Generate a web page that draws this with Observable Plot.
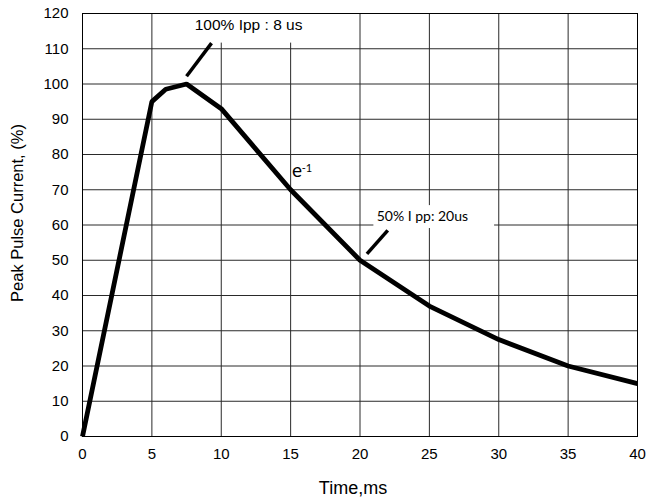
<!DOCTYPE html>
<html>
<head>
<meta charset="utf-8">
<script src="https://cdn.jsdelivr.net/npm/d3@7"></script>
<script src="https://cdn.jsdelivr.net/npm/@observablehq/plot@0.6"></script>
<style>
  html, body { margin: 0; padding: 0; background: #fff; }
  #chart svg { display: block; }
</style>
</head>
<body>
<div id="chart"></div>
<script>
// Data
const timeMs = [0, 5, 6, 7.5, 10, 15, 20, 25, 30, 35, 40];
const currentPct = [0, 95, 98.5, 100, 93, 70, 50, 37, 27.5, 20, 15];
const xTicks = [0, 5, 10, 15, 20, 25, 30, 35, 40];
const yTicks = [0, 10, 20, 30, 40, 50, 60, 70, 80, 90, 100, 110, 120];

// Annotations
const noteLabels = ["100% Ipp : 8 us", "50% I pp: 20us"];
const noteX = [11.97, 21.2];
const noteY = [116.6, 62.3];
const noteBoxX1 = [7.6, 21.0];
const noteBoxX2 = [16.4, 29.7];
const noteBoxY1 = [111.6, 59.0];
const noteBoxY2 = [120, 65.5];
const leaderX1 = [7.5, 20.5];
const leaderY1 = [102.2, 51.8];
const leaderX2 = [9.3, 22.0];
const leaderY2 = [111.6, 58.5];
const eLabel = ["e"];
const eX = [15.1];
const eY = [73.6];
const expLabel = ["-1"];
const expX = [15.8];
const expY = [76.0];

const series = timeMs.map((t, i) => ({t, v: currentPct[i]}));
const notes = noteLabels.map((s, i) => ({
  s, x: noteX[i], y: noteY[i],
  bx1: noteBoxX1[i], bx2: noteBoxX2[i], by1: noteBoxY1[i], by2: noteBoxY2[i],
  lx1: leaderX1[i], ly1: leaderY1[i], lx2: leaderX2[i], ly2: leaderY2[i]
}));

const sans = "'Liberation Sans', Arial, sans-serif";
const cal = "Lato, 'Open Sans', sans-serif";

const chart = Plot.plot({
  width: 646,
  height: 501,
  marginLeft: 82,
  marginRight: 9,
  marginTop: 13,
  marginBottom: 65,
  style: {fontFamily: sans, fontSize: "15px", color: "#000", background: "#fff"},
  x: {domain: [0, 40], ticks: xTicks, label: null, tickSize: 0, tickPadding: 12},
  y: {domain: [0, 120], ticks: yTicks, label: null, tickSize: 0, tickPadding: 14},
  marks: [
    Plot.ruleY(yTicks, {stroke: "#2a2a2a", strokeWidth: 1}),
    Plot.ruleX(xTicks, {stroke: "#2a2a2a", strokeWidth: 1}),
    Plot.rect(notes, {x1: "bx1", x2: "bx2", y1: "by1", y2: "by2", fill: "#fff"}),
    Plot.frame({stroke: "#000", strokeWidth: 1}),
    Plot.axisX({ticks: xTicks, tickSize: 0, tickPadding: 12, fontSize: 15, label: null}),
    Plot.axisY({ticks: yTicks, tickSize: 0, tickPadding: 14, fontSize: 15, label: null}),
    Plot.line(series, {x: "t", y: "v", stroke: "#000", strokeWidth: 4.8, strokeLinejoin: "miter", strokeLinecap: "butt"}),
    Plot.link(notes, {x1: "lx1", y1: "ly1", x2: "lx2", y2: "ly2", stroke: "#000", strokeWidth: 3.5}),
    Plot.text([notes[0]], {x: "x", y: "y", text: "s", fontSize: 15.5, textAnchor: "middle", fill: "#000", fontFamily: sans}),
    Plot.text([notes[1]], {x: "x", y: "y", text: "s", fontSize: 14, textAnchor: "start", fill: "#000", fontFamily: cal}),
    Plot.text(eLabel, {x: eX, y: eY, text: d => d, fontSize: 19, textAnchor: "start", lineAnchor: "bottom", fill: "#000", fontFamily: cal}),
    Plot.text(expLabel, {x: expX, y: expY, text: d => d, fontSize: 11, textAnchor: "start", fill: "#000", fontFamily: cal}),
    Plot.text(["Time,ms"], {frameAnchor: "bottom", lineAnchor: "bottom", dy: 57, dx: -7, text: d => d, fontSize: 18, fill: "#000", fontFamily: sans}),
    Plot.text(["Peak Pulse Current, (%)"], {frameAnchor: "left", textAnchor: "middle", lineAnchor: "middle", dx: -65, dy: -12, rotate: -90, text: d => d, fontSize: 16.5, fill: "#000", fontFamily: sans})
  ]
});
document.getElementById("chart").appendChild(chart);
</script>
</body>
</html>
